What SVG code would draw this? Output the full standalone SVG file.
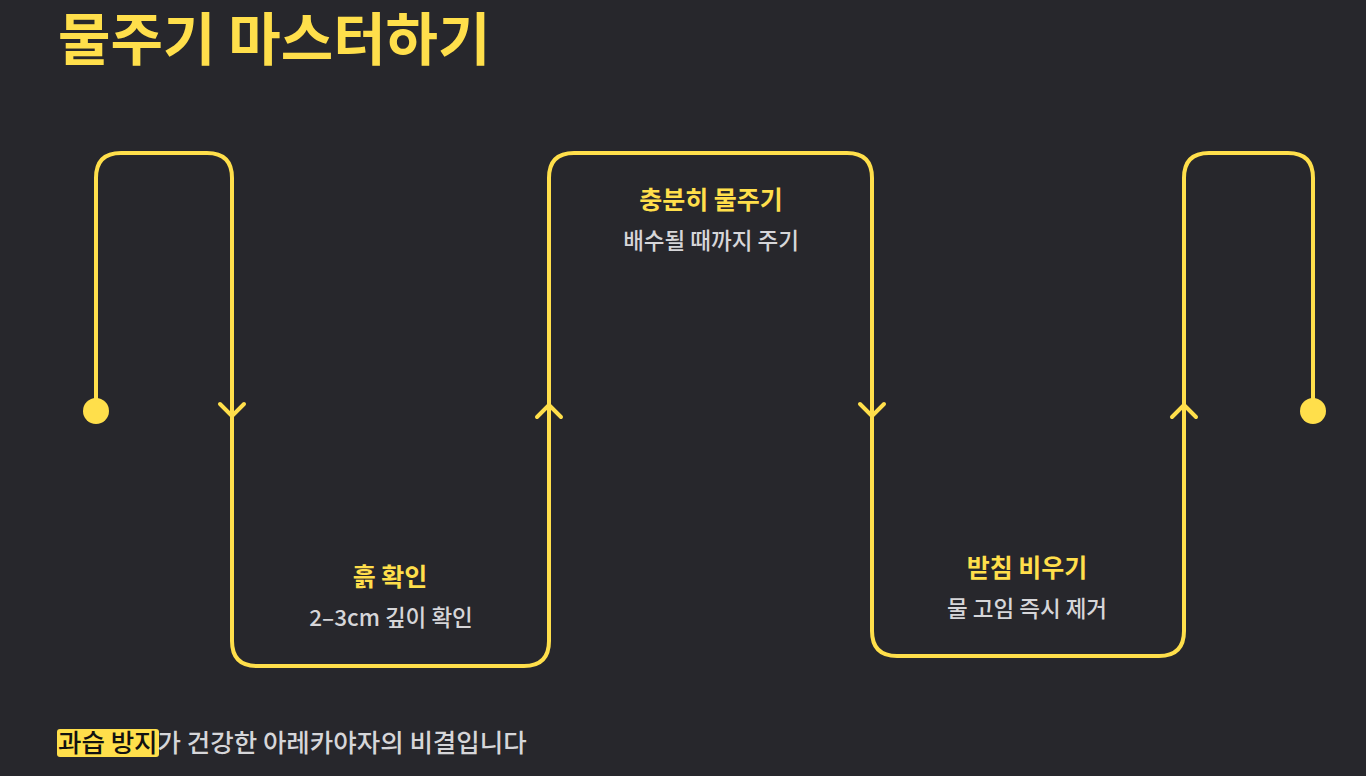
<svg xmlns="http://www.w3.org/2000/svg" width="1366" height="776" viewBox="0 0 1366 776">
<style>
text{font-family:"Noto Sans CJK KR","Noto Sans",sans-serif}
.t{fill:#ffdf4b;font-weight:700;font-size:25px;text-anchor:middle}
.s{fill:#d6d6d9;font-weight:500;font-size:22.5px;text-anchor:middle}
.ln{fill:none;stroke:#ffdf4b;stroke-width:4;stroke-linecap:round;stroke-linejoin:round}
</style>
<rect width="1366" height="776" fill="#27272c"/>
<text x="58" y="60" style="fill:#ffdf4b;font-weight:700;font-size:57px">물주기 마스터하기</text>
<g id="connectors">
<path class="ln" d="M96 411 V178 Q96 153 121 153 H207 Q232 153 232 178 V641 Q232 666 257 666 H524 Q549 666 549 641 V178 Q549 153 574 153 H847 Q872 153 872 178 V631 Q872 656 897 656 H1159 Q1184 656 1184 631 V178 Q1184 153 1209 153 H1288 Q1313 153 1313 178 V411"/>
<circle cx="96" cy="411" r="13" fill="#ffdf4b"/>
<circle cx="1313" cy="411" r="13" fill="#ffdf4b"/>
<path class="ln" d="M220 404 L232 416 L244 404"/>
<path class="ln" d="M537 417 L549 405 L561 417"/>
<path class="ln" d="M860 404 L872 416 L884 404"/>
<path class="ln" d="M1172 417 L1184 405 L1196 417"/>
</g>
<g id="node-soil">
<text class="t" x="390" y="586">흙 확인</text>
<text class="s" x="391" y="626">2–3cm 깊이 확인</text>
</g>
<g id="node-water">
<text class="t" x="711" y="209">충분히 물주기</text>
<text class="s" x="711" y="249">배수될 때까지 주기</text>
</g>
<g id="node-tray">
<text class="t" x="1027" y="577">받침 비우기</text>
<text class="s" x="1027" y="617">물 고임 즉시 제거</text>
</g>
<g id="footer">
<rect x="57" y="729" width="102" height="28" rx="3" fill="#ffdf4b"/>
<text x="58" y="752" style="font-size:25.5px;font-weight:500;fill:#d6d6d9"><tspan fill="#111">과습 방지</tspan>가 건강한 아레카야자의 비결입니다</text>
</g>
</svg>
